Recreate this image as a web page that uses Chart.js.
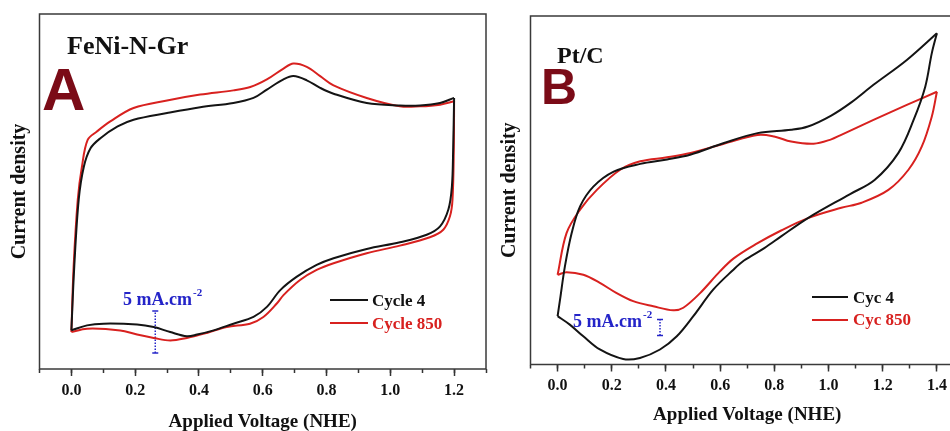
<!DOCTYPE html>
<html>
<head>
<meta charset="utf-8">
<script src="https://cdn.jsdelivr.net/npm/chart.js@4.4.1/dist/chart.umd.min.js"></script>
<style>
  html, body { margin: 0; padding: 0; width: 950px; height: 431px; overflow: hidden; background: #fff; }
  #page { position: relative; width: 950px; height: 431px; overflow: hidden; }
  canvas { position: absolute; top: 0; }
  .txt { position: absolute; font-family: "Liberation Serif", serif; font-weight: bold; line-height: 1; white-space: nowrap; color: #111; }
  .big { position: absolute; font-family: "Liberation Sans", Arial, sans-serif; font-weight: bold; line-height: 1; color: #7b0b17; }
  .sample { position: absolute; height: 0; border-top: 2px solid #141414; }
  .blue { color: #2424c8; }
  .blue span { font-size: 11px; position: relative; top: -9px; margin-left: 1px; }
</style>
</head>
<body>
<div id="page">
  <canvas id="cvA" width="500" height="433" style="left:0px"></canvas>
  <canvas id="cvB" width="490" height="426" style="left:480px"></canvas>

  <div class="txt" style="left:67px; top:33px; font-size:26px;">FeNi-N-Gr</div>
  <div class="big" style="left:42px; top:60px; font-size:60px;">A</div>
  <div class="txt blue" style="left:123px; top:290px; font-size:18px;">5 mA.cm<span>-2</span></div>
  <div class="sample" style="left:330px; top:299px; width:38px;"></div>
  <div class="txt" style="left:372px; top:292px; font-size:17px;">Cycle 4</div>
  <div class="sample" style="left:330px; top:322px; width:38px; border-color:#d8211f;"></div>
  <div class="txt" style="left:372px; top:315px; font-size:17px; color:#d8211f;">Cycle 850</div>

  <div class="txt" style="left:557px; top:43px; font-size:24px;">Pt/C</div>
  <div class="big" style="left:541px; top:62px; font-size:50px;">B</div>
  <div class="txt blue" style="left:573px; top:312px; font-size:18px;">5 mA.cm<span>-2</span></div>
  <div class="sample" style="left:812px; top:296px; width:36px;"></div>
  <div class="txt" style="left:853px; top:289px; font-size:17px;">Cyc 4</div>
  <div class="sample" style="left:812px; top:319px; width:36px; border-color:#d8211f;"></div>
  <div class="txt" style="left:853px; top:311px; font-size:17px; color:#d8211f;">Cyc 850</div>
</div>

<script>
// CV data: [voltage vs NHE, current density (mA/cm2, arbitrary zero)]
// Panel A - FeNi-N-Gr
const feniCycle4Forward = [
  [0.000, 4.6], [0.009, 12.2], [0.023, 20.2], [0.039, 24.1], [0.060, 26.3], [0.091, 27.5],
  [0.145, 28.9], [0.195, 29.7], [0.300, 30.5], [0.404, 31.2], [0.508, 31.7], [0.571, 32.3],
  [0.613, 33.3], [0.665, 34.5], [0.696, 34.9], [0.738, 34.4], [0.780, 33.5], [0.822, 32.8],
  [0.926, 31.7], [1.030, 31.4], [1.093, 31.4], [1.156, 31.7], [1.200, 32.3]
];
const feniCycle4Reverse = [
  [1.200, 32.3], [1.197, 26.1], [1.193, 21.7], [1.182, 19.0], [1.156, 17.0], [1.114, 16.0],
  [1.030, 15.1], [0.926, 14.3], [0.822, 13.2], [0.769, 12.4], [0.707, 11.0], [0.655, 9.4],
  [0.613, 7.4], [0.571, 6.2], [0.508, 5.4], [0.446, 4.6], [0.394, 4.1], [0.362, 3.9],
  [0.310, 4.4], [0.258, 5.0], [0.206, 5.3], [0.101, 5.4], [0.049, 5.2], [0.000, 4.6]
];
const feniCycle850Forward = [
  [0.000, 4.4], [0.007, 12.2], [0.020, 20.2], [0.033, 24.1], [0.051, 27.3], [0.080, 28.3],
  [0.122, 29.5], [0.195, 31.1], [0.300, 32.0], [0.404, 32.7], [0.508, 33.2], [0.561, 33.6],
  [0.613, 34.5], [0.665, 35.8], [0.696, 36.4], [0.738, 36.0], [0.780, 34.9], [0.822, 33.8],
  [0.926, 32.3], [1.030, 31.3], [1.093, 31.3], [1.156, 31.5], [1.200, 31.9]
];
const feniCycle850Reverse = [
  [1.200, 31.9], [1.199, 26.1], [1.195, 20.2], [1.187, 18.2], [1.166, 16.6], [1.124, 15.7],
  [1.030, 14.7], [0.926, 13.8], [0.822, 12.6], [0.769, 11.8], [0.717, 10.6], [0.665, 8.8],
  [0.644, 7.8], [0.602, 6.2], [0.560, 5.4], [0.487, 5.0], [0.425, 4.3], [0.362, 3.7],
  [0.310, 3.4], [0.258, 3.7], [0.206, 4.1], [0.153, 4.6], [0.049, 4.8], [0.000, 4.4]
];
const feniScaleBar = [[0.263, 1.9], [0.263, 6.9]];

// Panel B - Pt/C
const ptcCyc4Forward = [
  [0.000, 13.2], [0.009, 17.7], [0.027, 26.8], [0.052, 35.9], [0.083, 43.2], [0.132, 48.6],
  [0.207, 52.7], [0.305, 54.8], [0.404, 56.0], [0.489, 57.3], [0.614, 60.5], [0.738, 63.2],
  [0.862, 64.1], [0.924, 65.0], [1.010, 68.0], [1.084, 71.6], [1.166, 76.4], [1.289, 83.2],
  [1.400, 90.5]
];
const ptcCyc4Reverse = [
  [1.400, 90.5], [1.381, 85.0], [1.357, 75.9], [1.314, 66.8], [1.258, 57.8], [1.170, 50.4],
  [1.078, 46.5], [0.924, 40.0], [0.825, 35.0], [0.763, 31.8], [0.688, 28.4], [0.649, 25.9],
  [0.575, 20.5], [0.501, 13.2], [0.440, 7.7], [0.378, 4.1], [0.304, 1.8], [0.242, 1.5],
  [0.156, 4.1], [0.095, 7.7], [0.045, 10.9], [0.000, 13.2]
];
const ptcCyc850Forward = [
  [0.000, 24.5], [0.033, 35.9], [0.083, 42.3], [0.145, 47.7], [0.231, 53.2], [0.305, 55.5],
  [0.404, 56.6], [0.491, 57.8], [0.614, 60.3], [0.738, 62.7], [0.799, 62.3], [0.862, 60.9],
  [0.945, 60.3], [1.010, 61.5], [1.043, 62.6], [1.166, 66.8], [1.289, 70.9], [1.400, 74.5]
];
const ptcCyc850Reverse = [
  [1.400, 74.5], [1.381, 67.7], [1.344, 59.5], [1.295, 53.2], [1.221, 47.7], [1.122, 44.2],
  [1.047, 42.8], [0.924, 40.0], [0.825, 36.6], [0.730, 32.8], [0.650, 29.0], [0.600, 25.5],
  [0.526, 19.5], [0.464, 15.5], [0.427, 14.8], [0.353, 15.9], [0.279, 17.3], [0.218, 19.5],
  [0.156, 22.3], [0.095, 24.5], [0.033, 25.2], [0.000, 24.5]
];
const ptcScaleBar = [[0.378, 7.9], [0.378, 12.3]];

const xTickLabelsA = ['0.0', '0.2', '0.4', '0.6', '0.8', '1.0', '1.2'];
const xTickLabelsB = ['0.0', '0.2', '0.4', '0.6', '0.8', '1.0', '1.2', '1.4'];

const BLACK = '#141414';
const RED = '#d8211f';
const BLUE = '#2424c8';
const serif = '"Liberation Serif", "Times New Roman", serif';

const toPoints = (pairs) => pairs.map((p) => ({ x: p[0], y: p[1] }));

const scanLine = (pairs, color) => ({
  data: toPoints(pairs),
  showLine: true,
  borderColor: color,
  borderWidth: 2,
  pointRadius: 0,
  tension: 0.35,
  fill: false
});

const scaleBarLine = (pairs) => ({
  data: toPoints(pairs),
  showLine: true,
  borderColor: BLUE,
  borderWidth: 1.5,
  borderDash: [1.5, 1.5],
  pointStyle: 'line',
  pointRadius: 3,
  pointBorderWidth: 1.5,
  pointBorderColor: BLUE,
  pointBackgroundColor: BLUE
});

// box round the plot area
const framePlugin = {
  id: 'frame',
  afterDraw(chart) {
    const { ctx, chartArea: a } = chart;
    ctx.save();
    ctx.strokeStyle = '#3a3a3a';
    ctx.lineWidth = 1.5;
    ctx.strokeRect(a.left, a.top, a.right - a.left, a.bottom - a.top);
    ctx.restore();
  }
};

const makeCvChart = (canvasId, datasets, s) => {
  const ctx = document.querySelector(canvasId).getContext('2d');
  return new Chart(ctx, {
    type: 'scatter',
    data: { datasets: datasets },
    plugins: [framePlugin],
    options: {
      responsive: false,
      animation: false,
      devicePixelRatio: 1,
      layout: { padding: { top: s.padTop, right: s.padRight, left: 0, bottom: 0 } },
      plugins: { legend: { display: false }, tooltip: { enabled: false } },
      scales: {
        x: {
          type: 'linear',
          position: 'bottom',
          weight: 1,
          min: s.xMin,
          max: s.xMax,
          border: { display: false },
          grid: { drawOnChartArea: false, drawTicks: true, tickLength: 7, tickColor: '#333', tickWidth: 1.5 },
          ticks: {
            maxRotation: 0,
            autoSkip: false,
            padding: 5,
            color: '#111',
            font: { family: serif, size: 16, weight: 'bold' },
            callback: (value) => value.toFixed(1)
          },
          afterBuildTicks: (scale) => {
            scale.ticks = s.tickLabels.map((label) => ({ value: parseFloat(label) }));
          },
          afterFit: (scale) => { scale.height = s.xHeight; },
          title: {
            display: true,
            text: 'Applied Voltage (NHE)',
            color: '#111',
            padding: { top: 0, bottom: 0 },
            font: { family: serif, size: 19, weight: 'bold' }
          }
        },
        xMinor: {
          type: 'linear',
          position: 'bottom',
          weight: 0,
          min: s.xMin,
          max: s.xMax,
          border: { display: false },
          grid: { drawOnChartArea: false, drawTicks: true, tickLength: 4, tickColor: '#333', tickWidth: 1.5 },
          ticks: { stepSize: 0.1, display: false },
          afterFit: (scale) => { scale.height = 0; }
        },
        y: {
          type: 'linear',
          min: 0,
          max: s.yMax,
          border: { display: false },
          grid: { display: false },
          ticks: { display: false },
          afterFit: (scale) => { scale.width = s.yWidth; },
          title: {
            display: true,
            text: 'Current density',
            color: '#111',
            padding: { top: s.yTitlePad, bottom: 0 },
            font: { family: serif, size: 20, weight: 'bold' }
          }
        }
      }
    }
  });
};

// Draw panel A
makeCvChart('#cvA', [
  scanLine(feniCycle4Forward, BLACK),
  scanLine(feniCycle4Reverse, BLACK),
  scanLine(feniCycle850Forward, RED),
  scanLine(feniCycle850Reverse, RED),
  scaleBarLine(feniScaleBar)
], {
  xMin: -0.1, xMax: 1.3, yMax: 42.3, tickLabels: xTickLabelsA,
  padTop: 14, padRight: 14, xHeight: 64, yWidth: 39.5, yTitlePad: 8
});

// Draw panel B
makeCvChart('#cvB', [
  scanLine(ptcCyc4Forward, BLACK),
  scanLine(ptcCyc4Reverse, BLACK),
  scanLine(ptcCyc850Forward, RED),
  scanLine(ptcCyc850Reverse, RED),
  scaleBarLine(ptcScaleBar)
], {
  xMin: -0.1, xMax: 1.5, yMax: 95.2, tickLabels: xTickLabelsB,
  padTop: 16, padRight: 6, xHeight: 61.5, yWidth: 50.5, yTitlePad: 18
});
</script>
</body>
</html>
